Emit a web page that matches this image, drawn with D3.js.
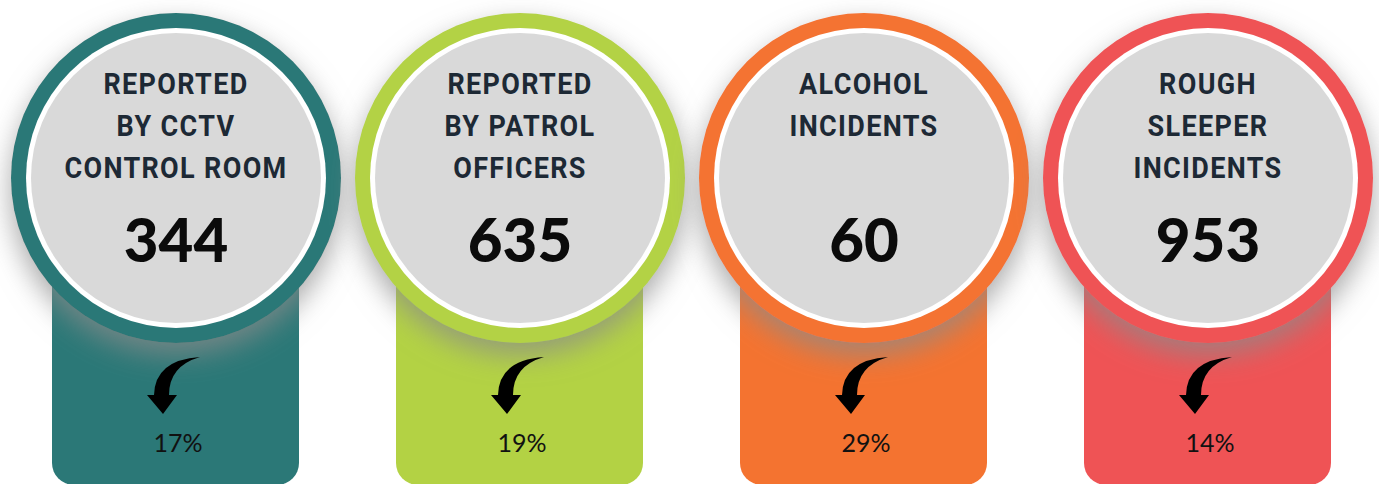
<!DOCTYPE html>
<html>
<head>
<meta charset="utf-8">
<script src="https://cdn.jsdelivr.net/npm/d3@7"></script>
<style>
  html, body { margin: 0; padding: 0; background: #fff; }
  svg { display: block; }
</style>
</head>
<body>
<svg id="chart"></svg>
<script>
// Data.
const titles = [
    ["REPORTED", "BY CCTV", "CONTROL ROOM"],
    ["REPORTED", "BY PATROL", "OFFICERS"],
    ["ALCOHOL", "INCIDENTS"],
    ["ROUGH", "SLEEPER", "INCIDENTS"]
];
const values = [344, 635, 60, 953];
const changes = ["17%", "19%", "29%", "14%"];
const colors = ["#2b7877", "#b3d244", "#f47330", "#ef5355"];

// Page size.
const width = 1379;
const height = 484;

const svg = d3.select("#chart")
    .attr("width", width)
    .attr("height", height)
    .attr("viewBox", [0, 0, width, height]);

const keys = d3.range(values.length);

// Card centers.
const x = d3.scalePoint()
    .domain(keys)
    .range([4, width + 1])
    .padding(0.5);

const cy = 178;       // circle center
const rOuter = 165;   // coloured ring
const rWhite = 150;
const rInner = 145;   // grey face

// shadow for the big circles
const defs = svg.append("defs");
const shadow = defs.append("filter")
    .attr("id", "shadow")
    .attr("x", "-30%").attr("y", "-30%")
    .attr("width", "160%").attr("height", "160%");
shadow.append("feDropShadow")
    .attr("dx", 0)
    .attr("dy", 12)
    .attr("stdDeviation", 14)
    .attr("flood-color", "#8a8a8a")
    .attr("flood-opacity", 0.75);

const cards = svg.selectAll("g.card")
    .data(keys)
    .join("g")
    .attr("class", "card")
    .attr("transform", d => `translate(${x(d)},0)`);

// bottom tab
cards.append("rect")
    .attr("x", -124)
    .attr("y", 150)
    .attr("width", 247)
    .attr("height", 335)
    .attr("rx", 22)
    .attr("fill", d => colors[d]);

// ring + face
cards.append("circle")
    .attr("cy", cy)
    .attr("r", rOuter)
    .attr("fill", d => colors[d])
    .attr("filter", "url(#shadow)");

cards.append("circle")
    .attr("cy", cy)
    .attr("r", rWhite)
    .attr("fill", "#fff");

cards.append("circle")
    .attr("cy", cy)
    .attr("r", rInner)
    .attr("fill", "#d9d9d9");

// titles (condensed look)
cards.append("text")
    .attr("text-anchor", "middle")
    .attr("transform", "scale(0.9,1)")
    .style("font-family", "Roboto, sans-serif")
    .style("font-weight", 700)
    .style("font-size", "30px")
    .style("letter-spacing", "1.5px")
    .attr("fill", "#1d2935")
    .selectAll("tspan")
    .data(d => titles[d])
    .join("tspan")
    .attr("x", 0)
    .attr("y", (t, i) => 94 + i * 42)
    .text(t => t);

// big numbers
cards.append("text")
    .attr("text-anchor", "middle")
    .attr("y", 262)
    .style("font-family", "Lato, sans-serif")
    .style("font-weight", 900)
    .style("font-size", "60px")
    .attr("fill", "#0b0b0b")
    .text(d => values[d]);

// curved down arrow
cards.append("path")
    .attr("d", "M24,357 Q-21,360 -22,395 L-29,395 L-13,414 L1,395 L-7,395 Q-7,366 24,357 Z")
    .attr("fill", "#000");

// change %
cards.append("text")
    .attr("text-anchor", "middle")
    .attr("x", 2)
    .attr("y", 452)
    .style("font-family", "Lato, sans-serif")
    .style("font-weight", 400)
    .style("font-size", "25px")
    .attr("fill", "#111")
    .text(d => changes[d]);
</script>
</body>
</html>
